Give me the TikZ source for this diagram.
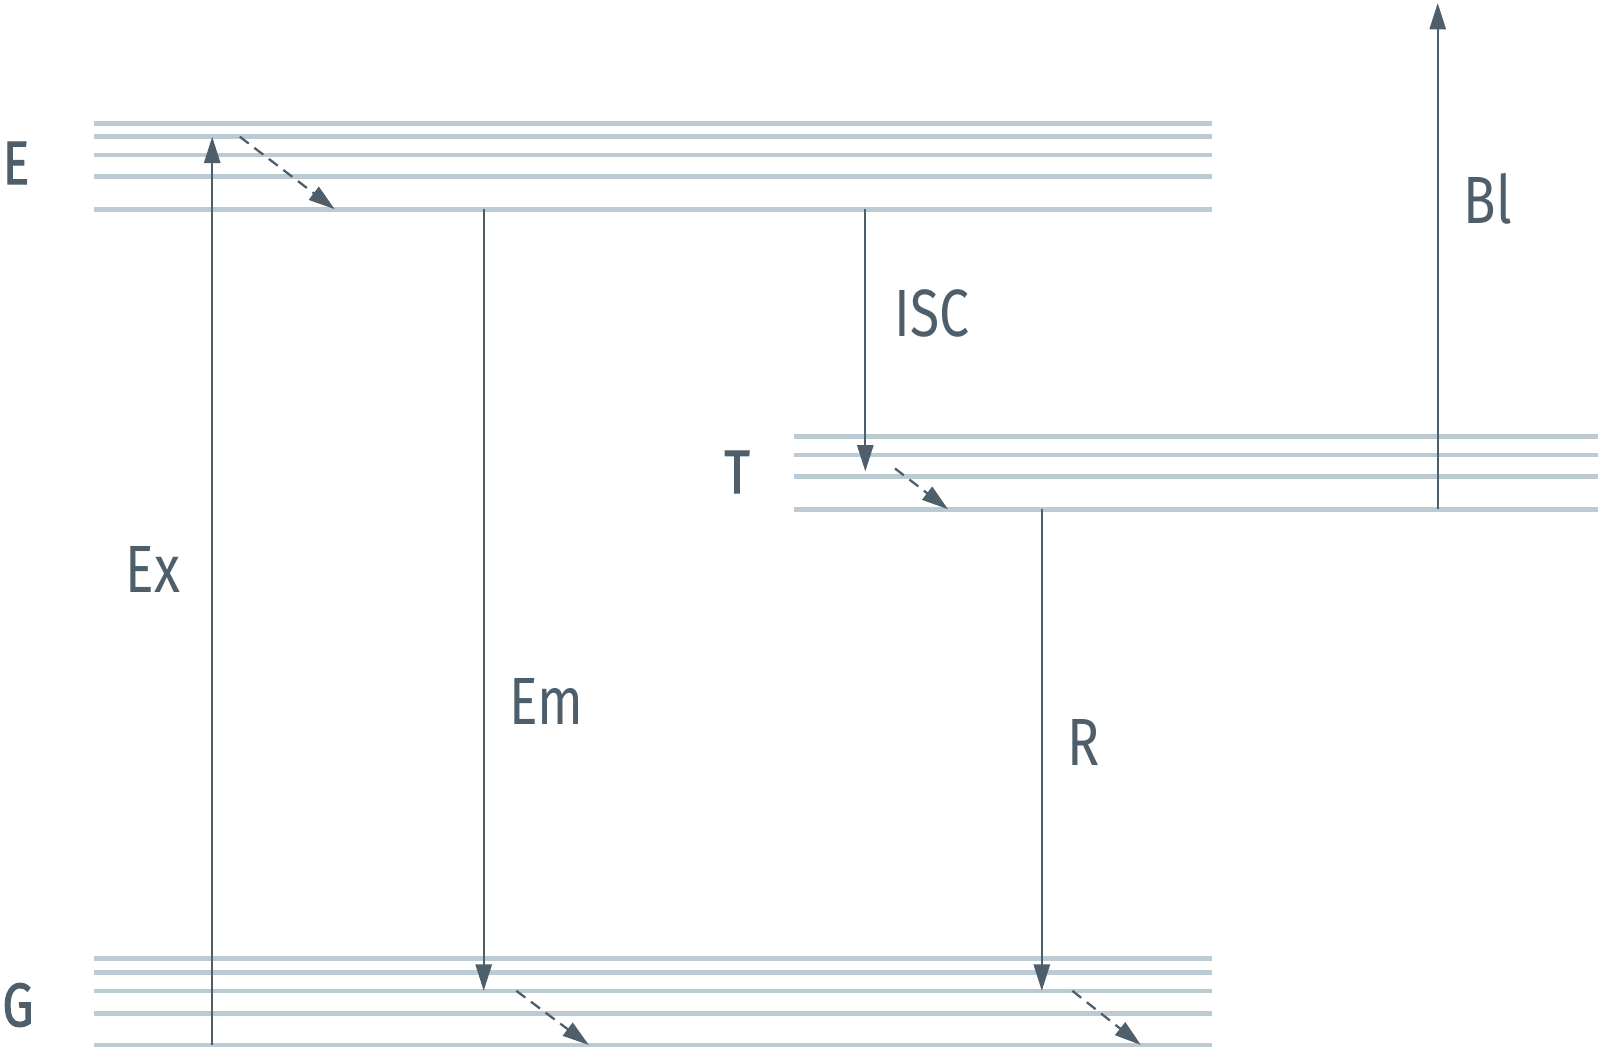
\documentclass[tikz,border=0pt]{standalone}
\usepackage{fontspec}
\setmainfont{Fira Sans}[FakeStretch = 0.8]
\newfontfamily\statefont{Fira Sans}[FakeStretch = 0.8, FakeBold = 1.6]
\usetikzlibrary{arrows.meta}
\definecolor{levelgray}{HTML}{BCCAD3}
\definecolor{arrowslate}{HTML}{4E5F6B}

\begin{document}
\begin{tikzpicture}[x = 0.01cm, y = -0.01cm,
	level/.style = {line width = 1.3pt, color = levelgray},
	trans/.style = {-{Triangle[length = 7.5pt, width = 4.6pt]}, line width = 0.65pt, color = arrowslate},
	relax/.style = {trans, dash pattern = on 3.2pt off 2pt},
	lbl/.style = {color = arrowslate, inner sep = 0, font = \fontsize{19}{19}\selectfont},
	state/.style = {color = arrowslate, inner sep = 0, font = \fontsize{17.5}{17.5}\statefont}]
	\useasboundingbox (0,0) rectangle (1600,1053);
	% vibrational levels
	\foreach \y in {123.5,136.7,155.1,176.5,209.2}
	\draw [level] (94,\y) -- (1212,\y);
	\foreach \y in {436.7,455.1,476.5,509.2}
	\draw [level] (794,\y) -- (1598,\y);
	\foreach \y in {958.2,972.4,990.8,1013.3,1044.9}
	\draw [level] (94,\y) -- (1212,\y);
	% states
	\node [state] (E) at (16,163) {E};
	\node [state] (T) at (737,472) {T};
	\node [state] (G) at (18,1005) {G};
	% end points
	\coordinate (ex0) at (212.2,1044.9);
	\coordinate (ex1) at (212.2,136.7);
	\coordinate (ve0) at (239.8,136.7);
	\coordinate (ve1) at (334.7,209.2);
	\coordinate (em0) at (483.7,209.2);
	\coordinate (em1) at (483.7,990.8);
	\coordinate (vg0) at (516.3,990.8);
	\coordinate (vg1) at (588.8,1044.9);
	\coordinate (isc0) at (865.3,209.2);
	\coordinate (isc1) at (865.3,471.4);
	\coordinate (vt0) at (894.9,468.4);
	\coordinate (vt1) at (948,509.2);
	\coordinate (r0) at (1041.8,509.2);
	\coordinate (r1) at (1041.8,990.8);
	\coordinate (vh0) at (1072.4,990.8);
	\coordinate (vh1) at (1140.8,1044.9);
	\coordinate (bl0) at (1437.7,509.2);
	\coordinate (bl1) at (1437.7,3);
	% transitions
	\draw [trans] (ex0) -- (ex1);
	\draw [trans] (em0) -- (em1);
	\draw [trans] (isc0) -- (isc1);
	\draw [trans] (r0) -- (r1);
	\draw [trans] (bl0) -- (bl1);
	\draw [relax] (ve0) -- (ve1);
	\draw [relax] (vg0) -- (vg1);
	\draw [relax] (vt0) -- (vt1);
	\draw [relax] (vh0) -- (vh1);
	% labels
	\node [lbl] (ex) at (153,569) {Ex};
	\node [lbl] (em) at (546,701) {Em};
	\node [lbl] (isc) at (932,313) {ISC};
	\node [lbl] (r) at (1084,742) {R};
	\node [lbl] (bl) at (1488,199) {Bl};
\end{tikzpicture}
\end{document}
